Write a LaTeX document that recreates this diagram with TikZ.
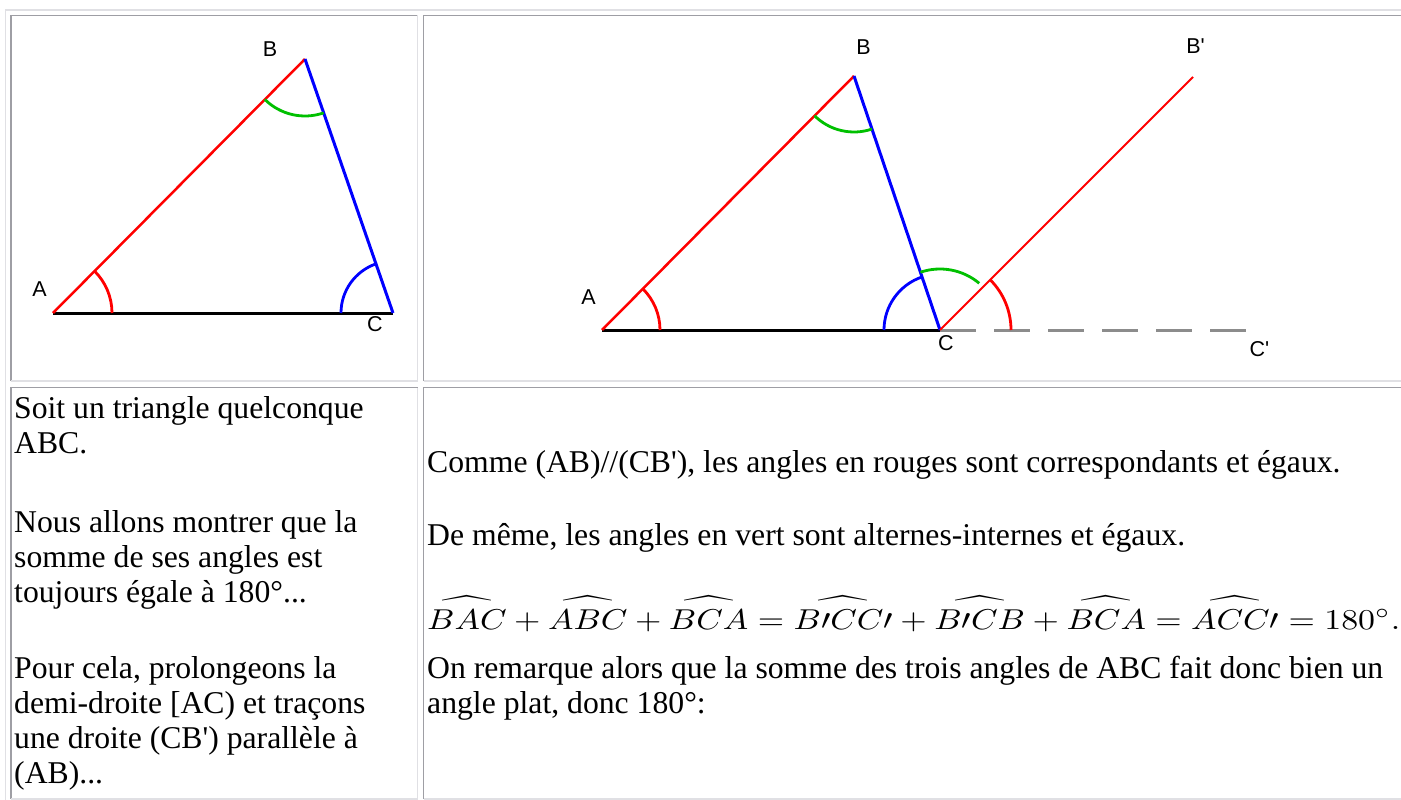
\documentclass[tikz,border=0pt]{standalone}
\usepackage{fontspec,graphicx}
\usetikzlibrary{positioning}
\setmainfont{Liberation Serif}
\newfontfamily\ptfont{Liberation Sans}
\definecolor{SideRed}{RGB}{255,0,0}
\definecolor{SideBlue}{RGB}{0,0,255}
\definecolor{ArcGreen}{RGB}{0,192,0}
\definecolor{DashGray}{RGB}{140,140,140}
\definecolor{BorderLight}{RGB}{224,224,228}
\definecolor{BorderDark}{RGB}{158,158,164}
\newcommand{\q}{\textquotesingle}
% angle with its hat lifted a little
\newcommand{\ang}[1]{\widehat{\vrule height 8.3pt width 0pt #1}}
% inset cell border: dark top/left, light bottom/right
\newcommand{\insetcell}[4]{%
	\draw[borderdark] (#1,#4) -- (#1,#2) -- (#3,#2);
	\draw[borderlight] (#3,#2) -- (#3,#4) -- (#1,#4);}

\begin{document}
\begin{tikzpicture}[
		x=1pt, y=-1pt,
		borderdark/.style={draw=BorderDark, line width=1.6pt},
		borderlight/.style={draw=BorderLight, line width=1.6pt},
		redside/.style={draw=SideRed, line width=2.5pt},
		paraside/.style={draw=SideRed, line width=2.1pt},
		blueside/.style={draw=SideBlue, line width=3pt},
		baseside/.style={draw=black, line width=3pt},
		dashside/.style={draw=DashGray, line width=3pt, dash pattern=on 36pt off 18pt},
		redarc/.style={draw=SideRed, line width=2.8pt},
		greenarc/.style={draw=ArcGreen, line width=2.8pt},
		bluearc/.style={draw=SideBlue, line width=2.8pt},
		ptlabel/.style={inner sep=0pt, font=\ptfont\fontsize{21.5}{25}\selectfont},
		bodytext/.style={inner sep=0pt, anchor=base west, font=\fontsize{31.7}{36}\selectfont}
		]
		\useasboundingbox (0,0) rectangle (1401,800);
		\clip (0,0) rectangle (1401,800);
		\fill[white] (0,0) rectangle (1401,800);

		% table frame
		\draw[borderlight] (5.5,800) -- (5.5,10) -- (1401,10);
		\insetcell{11}{15.5}{417.5}{381}
		\insetcell{423.5}{15.5}{1410}{381}
		\insetcell{11}{387.5}{417.5}{799}
		\insetcell{423.5}{387.5}{1410}{799}

		% first figure: the triangle
		\coordinate (lA) at (53,313);
		\coordinate (lB) at (305,59);
		\coordinate (lC) at (393,313);
		\draw[baseside] (lA) -- (lC);
		\draw[redside] (lA) -- (lB);
		\draw[blueside] (lB) -- (lC);
		\draw[redarc] (lA) ++(0:59) arc[start angle=0, end angle=-45.2, radius=59];
		\draw[greenarc] (lB) ++(70.9:57) arc[start angle=70.9, end angle=134.8, radius=57];
		\draw[bluearc] (lC) ++(180:52) arc[start angle=180, end angle=250.9, radius=52];
		\node[ptlabel] (lAlab) at (39.5,289.5) {A};
		\node[ptlabel] (lBlab) at (270,49.5) {B};
		\node[ptlabel] (lClab) at (375,324.5) {C};

		% second figure: the parallel through C
		\coordinate (rA) at (602,330);
		\coordinate (rB) at (854,76);
		\coordinate (rC) at (940,330);
		\coordinate (rBp) at (1193,77);
		\coordinate (rCp) at (1248,330);
		\draw[dashside] (rC) -- (rCp);
		\draw[baseside] (rA) -- (rC);
		\draw[redside] (rA) -- (rB);
		\draw[blueside] (rB) -- (rC);
		\draw[paraside] (rC) -- (rBp);
		\draw[redarc] (rA) ++(0:58) arc[start angle=0, end angle=-45.2, radius=58];
		\draw[greenarc] (rB) ++(71.3:56) arc[start angle=71.3, end angle=134.8, radius=56];
		\draw[bluearc] (rC) ++(180:56) arc[start angle=180, end angle=251.3, radius=56];
		\draw[greenarc] (rC) ++(251.3:61) arc[start angle=251.3, end angle=310, radius=61];
		\draw[redarc] (rC) ++(315:71) arc[start angle=315, end angle=360, radius=71];
		\node[ptlabel] (rAlab) at (588.5,297.5) {A};
		\node[ptlabel] (rBlab) at (863.5,47) {B};
		\node[ptlabel] (rClab) at (946,343) {C};
		\node[ptlabel] (rBplab) at (1195.5,46) {B\q};
		\node[ptlabel] (rCplab) at (1259.5,349.5) {C\q};

		% left text
		\node[bodytext] (soit) at (14,418) {Soit un triangle quelconque};
		\node[bodytext] (abc) at (14,453) {ABC.};
		\node[bodytext] (nous) at (14,532) {Nous allons montrer que la};
		\node[bodytext] (somme) at (14,567) {somme de ses angles est};
		\node[bodytext] (toujours) at (14,602) {toujours égale à 180°...};
		\node[bodytext] (pour) at (14,678) {Pour cela, prolongeons la};
		\node[bodytext] (demi) at (14,713) {demi-droite [AC) et traçons};
		\node[bodytext] (une) at (14,748) {une droite (CB\q) parallèle à};
		\node[bodytext] (ab) at (14,783) {(AB)...};

		% right text
		\node[bodytext] (comme) at (427,472) {Comme (AB)//(CB\q), les angles en rouges sont correspondants et égaux.};
		\node[bodytext] (dememe) at (427,545) {De même, les angles en vert sont alternes-internes et égaux.};
		\node[inner sep=0pt, anchor=base west] (formule) at (427,629)
			{\resizebox{973pt}{33pt}{$\ang{BAC}+\ang{ABC}+\ang{BCA}=\ang{B\prime CC\prime}+\ang{B\prime CB}+\ang{BCA}=\ang{ACC\prime}=180^\circ.$}};
		\node[bodytext] (remarque) at (427,678) {On remarque alors que la somme des trois angles de ABC fait donc bien un};
		\node[bodytext] (plat) at (427,713) {angle plat, donc 180°:};
	\end{tikzpicture}
\end{document}
